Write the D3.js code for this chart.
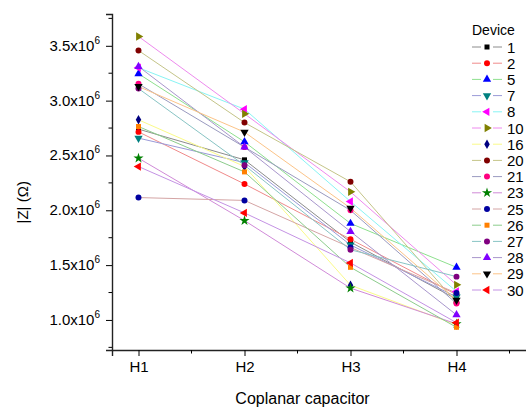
<!DOCTYPE html>
<html lang="en">
<head>
  <meta charset="UTF-8">
  <title>|Z| vs coplanar capacitor</title>
  <style>
    html,
    body {
      margin: 0;
      padding: 0;
      background: #fff;
    }

    svg text {
      font-family: "Liberation Sans", Arial, sans-serif;
      fill: #000;
    }
  </style>
</head>
<body>
<div id="chart"></div>

<script src="https://d3js.org/d3.v7.min.js"></script>
<script>
  // capacitor positions
  const categories = ['H1', 'H2', 'H3', 'H4'];

  // device ids shown in the legend
  const devices = ['1', '2', '5', '7', '8', '10', '16', '20', '21', '23', '25', '26', '27', '28', '29', '30'];

  // |Z| in units of 10^6 ohm, H1..H4
  const z1 = [2.74, 2.46, 1.71, 1.19];
  const z2 = [2.715, 2.24, 1.736, 1.23];
  const z5 = [3.245, 2.624, 1.88, 1.48];
  const z7 = [2.658, 2.435, 1.684, 1.21];
  const z8 = [3.30, 2.922, 2.08, 1.26];
  const z10 = [3.585, 2.88, 2.168, 1.32];
  const z16 = [2.825, 2.40, 1.317, 0.955];
  const z20 = [3.457, 2.80, 2.26, 1.16];
  const z21 = [3.153, 2.576, 2.0, 1.15];
  const z23 = [2.475, 1.906, 1.29, 0.965];
  const z25 = [2.116, 2.09, 1.66, 1.245];
  const z26 = [2.764, 2.35, 1.48, 0.933];
  const z27 = [3.11, 2.41, 1.64, 1.395];
  const z28 = [3.311, 2.576, 1.806, 1.046];
  const z29 = [3.129, 2.713, 2.02, 1.18];
  const z30 = [2.399, 1.976, 1.52, 0.975];

  const seriesValues = [z1, z2, z5, z7, z8, z10, z16, z20, z21, z23, z25, z26, z27, z28, z29, z30];

  const yTickValues = [1.0, 1.5, 2.0, 2.5, 3.0, 3.5];
  const yTickLabels = ['1.0', '1.5', '2.0', '2.5', '3.0', '3.5'];

  // styles
  const lineColors = ['#8c8c8c', '#f08a8a', '#8ee08e', '#9a9ad8', '#88f4f4', '#ee8aee', '#fafa88', '#c4c488',
    '#9a9ac0', '#d08ad8', '#d4a4a4', '#8ccc8c', '#88c4c4', '#a896cc', '#fcc488', '#c492e4'];
  const markerColors = ['#000000', '#ff0000', '#0000ff', '#008080', '#ff00ff', '#808000', '#000080', '#800000',
    '#ff0080', '#008000', '#0000a0', '#ff8000', '#800080', '#8000ff', '#000000', '#ff0000'];
  const markerShapes = ['square', 'circle', 'up', 'down', 'left', 'right', 'diamond', 'circle',
    'circle', 'star', 'circle', 'square', 'circle', 'up', 'down', 'left'];

  const width = 526;
  const height = 410;

  const x = d3.scaleLinear().domain([0.75, 4.75]).range([112, 536]);
  const y = d3.scaleLinear().domain([0.726, 3.79]).range([350, 14]);

  const svg = d3.select('#chart').append('svg')
    .attr('width', width)
    .attr('height', height);

  const symbolPath = (shape) => {
    const types = {
      square: [d3.symbolSquare, 25],
      circle: [d3.symbolCircle, 28],
      up: [d3.symbolTriangle, 30],
      down: [d3.symbolTriangle, 30],
      left: [d3.symbolTriangle, 30],
      right: [d3.symbolTriangle, 30],
      diamond: [d3.symbolDiamond, 26],
      star: [d3.symbolStar, 32],
    };
    const [type, size] = types[shape];
    return d3.symbol().type(type).size(size)();
  };

  const symbolRotate = shape => ({ down: 180, left: -90, right: 90 }[shape] || 0);

  const drawMarker = (g, i, cx, cy) => {
    g.append('path')
      .attr('d', symbolPath(markerShapes[i]))
      .attr('fill', markerColors[i])
      .attr('transform', `translate(${cx},${cy}) rotate(${symbolRotate(markerShapes[i])})`);
  };

  // axes
  const xAxis = svg.append('g')
    .attr('transform', `translate(0,${y.range()[0]})`)
    .call(d3.axisBottom(x)
      .tickValues([1, 2, 3, 4, 5])
      .tickSize(6)
      .tickPadding(5)
      .tickFormat(d => categories[d - 1] || ''));

  xAxis.append('g')
    .selectAll('line')
    .data([1.5, 2.5, 3.5, 4.5])
    .join('line')
    .attr('x1', d => x(d))
    .attr('x2', d => x(d))
    .attr('y1', 0)
    .attr('y2', 3.5)
    .attr('stroke', '#000');

  const yAxis = svg.append('g')
    .attr('transform', `translate(${x.range()[0]},0)`)
    .call(d3.axisLeft(y)
      .tickValues(yTickValues)
      .tickSize(6)
      .tickPadding(4)
      .tickFormat(''));

  yAxis.append('g')
    .selectAll('line')
    .data([0.75, 1.25, 1.75, 2.25, 2.75, 3.25, 3.75])
    .join('line')
    .attr('x1', 0)
    .attr('x2', -3.5)
    .attr('y1', d => y(d))
    .attr('y2', d => y(d))
    .attr('stroke', '#000');

  [xAxis, yAxis].forEach(ax => {
    ax.select('.domain').attr('stroke', '#222').attr('stroke-width', 1.4);
    ax.selectAll('.tick line').attr('stroke', '#000');
  });

  xAxis.selectAll('.tick text')
    .attr('font-size', 15)
    .attr('font-family', '"Liberation Sans", Arial, sans-serif')
    .attr('fill', '#000');

  // y tick labels with superscript exponent
  yTickValues.forEach((v, i) => {
    const t = svg.append('text')
      .attr('x', 100)
      .attr('y', y(v) + 5)
      .attr('text-anchor', 'end')
      .attr('font-size', 15);
    t.append('tspan').text(yTickLabels[i] + 'x10');
    t.append('tspan')
      .attr('font-size', 10)
      .attr('dy', -7)
      .text('6');
  });

  // axis titles
  svg.append('text')
    .attr('x', (x(1) + x(4)) / 2 + 5)
    .attr('y', 404)
    .attr('text-anchor', 'middle')
    .attr('font-size', 16)
    .text('Coplanar capacitor');

  svg.append('text')
    .attr('transform', `translate(28,${y(2.0) - 8}) rotate(-90)`)
    .attr('text-anchor', 'middle')
    .attr('font-size', 15)
    .text('|Z| (Ω)');

  // series lines
  const line = d3.line()
    .x((d, i) => x(i + 1))
    .y(d => y(d));

  svg.append('g')
    .selectAll('path')
    .data(seriesValues)
    .join('path')
    .attr('d', line)
    .attr('fill', 'none')
    .attr('stroke', (d, i) => lineColors[i])
    .attr('stroke-width', 1);

  // markers
  const markers = svg.append('g');
  seriesValues.forEach((vals, i) => {
    vals.forEach((v, j) => drawMarker(markers, i, x(j + 1), y(v)));
  });

  // legend
  const legend = svg.append('g');
  legend.append('text')
    .attr('x', 472)
    .attr('y', 35)
    .attr('font-size', 14)
    .text('Device');

  devices.forEach((dev, i) => {
    const ly = 47 + i * 16.2;
    legend.append('line')
      .attr('x1', 472).attr('x2', 481)
      .attr('y1', ly).attr('y2', ly)
      .attr('stroke', lineColors[i]);
    legend.append('line')
      .attr('x1', 493).attr('x2', 502)
      .attr('y1', ly).attr('y2', ly)
      .attr('stroke', lineColors[i]);
    drawMarker(legend, i, 487, ly);
    legend.append('text')
      .attr('x', 507)
      .attr('y', ly + 5.5)
      .attr('font-size', 15)
      .text(dev);
  });
</script>
</body>
</html>
